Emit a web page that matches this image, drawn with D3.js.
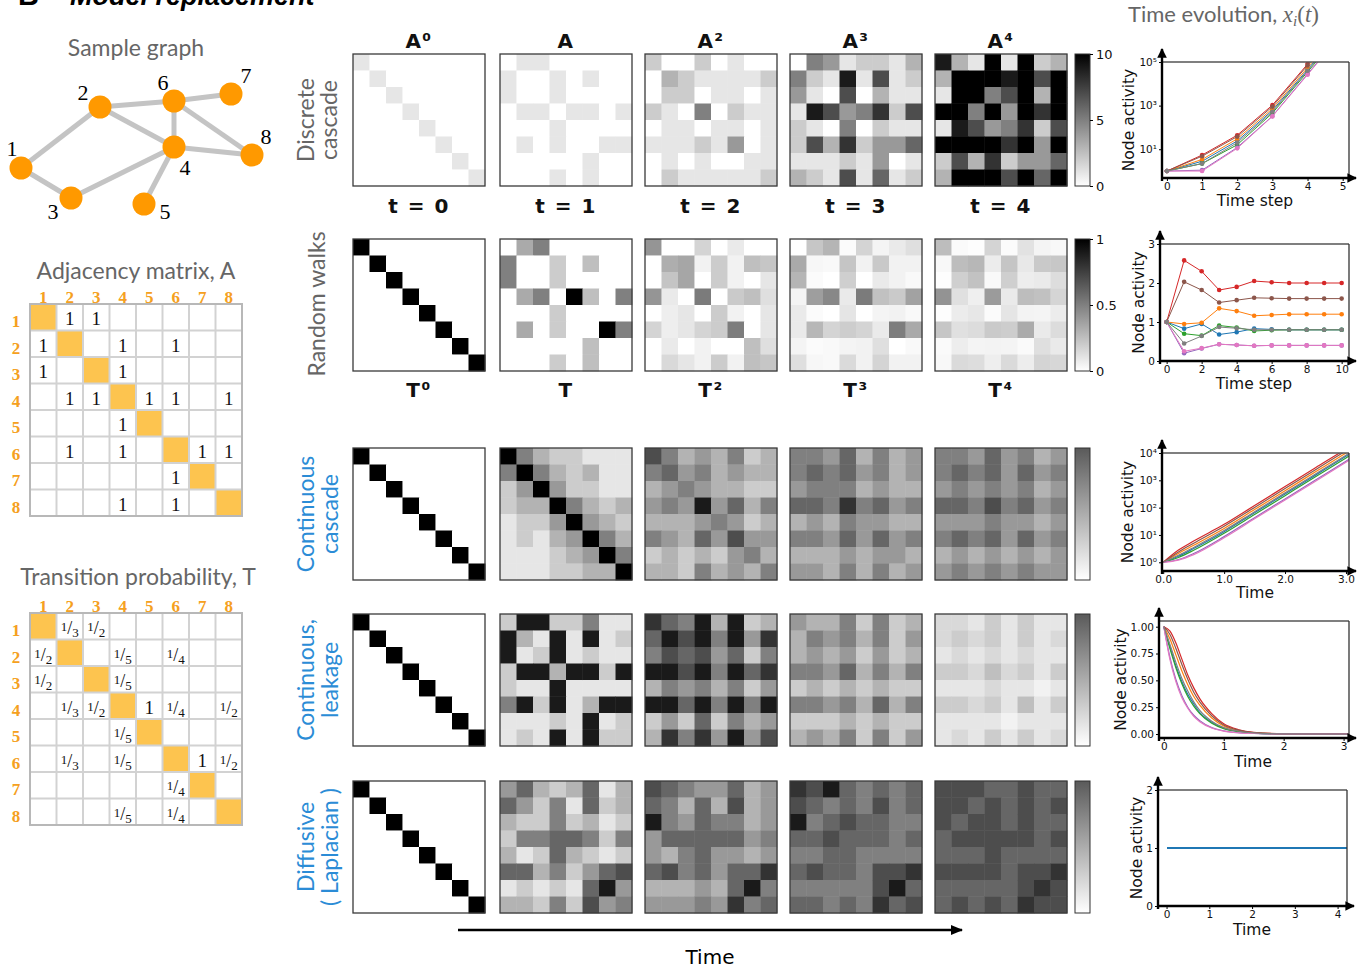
<!DOCTYPE html>
<html>
<head>
<meta charset="utf-8">
<title>Model replacement</title>
<script src="https://cdn.jsdelivr.net/npm/d3@7"></script>
<style>
  html, body { margin: 0; padding: 0; background: #ffffff; }
  svg { display: block; }
</style>
</head>
<body>
<svg id="figure" width="1372" height="971"></svg>
<script>
// ------------------------------------------------------------------
// Data
// ------------------------------------------------------------------
const nodeNames = ["1", "2", "3", "4", "5", "6", "7", "8"];
const nodeColors = ["#1f77b4", "#ff7f0e", "#2ca02c", "#d62728", "#9467bd", "#8c564b", "#e377c2", "#7f7f7f"];

const adjacency = [
  [0, 1, 1, 0, 0, 0, 0, 0],
  [1, 0, 0, 1, 0, 1, 0, 0],
  [1, 0, 0, 1, 0, 0, 0, 0],
  [0, 1, 1, 0, 1, 1, 0, 1],
  [0, 0, 0, 1, 0, 0, 0, 0],
  [0, 1, 0, 1, 0, 0, 1, 1],
  [0, 0, 0, 0, 0, 1, 0, 0],
  [0, 0, 0, 1, 0, 1, 0, 0]
];

const transitionText = [
  ["", "1/3", "1/2", "", "", "", "", ""],
  ["1/2", "", "", "1/5", "", "1/4", "", ""],
  ["1/2", "", "", "1/5", "", "", "", ""],
  ["", "1/3", "1/2", "", "1", "1/4", "", "1/2"],
  ["", "", "", "1/5", "", "", "", ""],
  ["", "1/3", "", "1/5", "", "", "1", "1/2"],
  ["", "", "", "", "", "1/4", "", ""],
  ["", "", "", "1/5", "", "1/4", "", ""]
];

// Discrete cascade: powers of A (node activity, colour range 0..10)
const identity = [
  [1, 0, 0, 0, 0, 0, 0, 0],
  [0, 1, 0, 0, 0, 0, 0, 0],
  [0, 0, 1, 0, 0, 0, 0, 0],
  [0, 0, 0, 1, 0, 0, 0, 0],
  [0, 0, 0, 0, 1, 0, 0, 0],
  [0, 0, 0, 0, 0, 1, 0, 0],
  [0, 0, 0, 0, 0, 0, 1, 0],
  [0, 0, 0, 0, 0, 0, 0, 1]
];
const powerA2 = [
  [2, 0, 0, 2, 0, 1, 0, 0],
  [0, 3, 2, 1, 1, 1, 1, 2],
  [0, 2, 2, 0, 1, 1, 0, 1],
  [2, 1, 0, 5, 0, 2, 1, 1],
  [0, 1, 1, 0, 1, 1, 0, 1],
  [1, 1, 1, 2, 1, 4, 0, 1],
  [0, 1, 0, 1, 0, 0, 1, 1],
  [0, 2, 1, 1, 1, 1, 1, 2]
];
const powerA3 = [
  [0, 5, 4, 1, 2, 2, 1, 3],
  [5, 2, 1, 9, 1, 7, 1, 2],
  [4, 1, 0, 7, 0, 3, 1, 1],
  [1, 9, 7, 4, 5, 8, 2, 7],
  [2, 1, 0, 5, 0, 2, 1, 1],
  [2, 7, 3, 8, 2, 4, 4, 6],
  [1, 1, 1, 2, 1, 4, 0, 1],
  [3, 2, 1, 7, 1, 6, 1, 2]
];
const powerA4 = [
  [9, 3, 1, 16, 1, 10, 2, 3],
  [3, 21, 14, 13, 9, 14, 7, 16],
  [1, 14, 11, 5, 7, 10, 3, 10],
  [16, 13, 5, 36, 4, 22, 8, 12],
  [1, 9, 7, 4, 5, 8, 2, 7],
  [10, 14, 10, 22, 8, 25, 4, 12],
  [2, 7, 3, 8, 2, 4, 4, 6],
  [3, 16, 10, 12, 7, 12, 6, 13]
];

// Random walks: powers of T (probability, colour range 0..1)
const powerT1 = [
  [0, 0.333, 0.5, 0, 0, 0, 0, 0],
  [0.5, 0, 0, 0.2, 0, 0.25, 0, 0],
  [0.5, 0, 0, 0.2, 0, 0, 0, 0],
  [0, 0.333, 0.5, 0, 1, 0.25, 0, 0.5],
  [0, 0, 0, 0.2, 0, 0, 0, 0],
  [0, 0.333, 0, 0.2, 0, 0, 1, 0.5],
  [0, 0, 0, 0, 0, 0.25, 0, 0],
  [0, 0, 0, 0.2, 0, 0.25, 0, 0]
];
const powerT2 = [
  [0.417, 0, 0, 0.167, 0, 0.083, 0, 0],
  [0, 0.317, 0.35, 0.05, 0.2, 0.05, 0.25, 0.225],
  [0, 0.233, 0.35, 0, 0.2, 0.05, 0, 0.1],
  [0.417, 0.083, 0, 0.517, 0, 0.208, 0.25, 0.125],
  [0, 0.067, 0.1, 0, 0.2, 0.05, 0, 0.1],
  [0.167, 0.067, 0.1, 0.167, 0.2, 0.508, 0, 0.1],
  [0, 0.083, 0, 0.05, 0, 0, 0.25, 0.125],
  [0, 0.15, 0.1, 0.05, 0.2, 0.05, 0.25, 0.225]
];
const powerT3 = [
  [0, 0.222, 0.292, 0.017, 0.167, 0.042, 0.083, 0.125],
  [0.333, 0.033, 0.025, 0.228, 0.05, 0.21, 0.05, 0.05],
  [0.292, 0.017, 0, 0.187, 0, 0.083, 0.05, 0.025],
  [0.042, 0.381, 0.467, 0.083, 0.517, 0.244, 0.208, 0.363],
  [0.083, 0.017, 0, 0.103, 0, 0.042, 0.05, 0.025],
  [0.083, 0.281, 0.167, 0.195, 0.167, 0.083, 0.508, 0.338],
  [0.042, 0.017, 0.025, 0.042, 0.05, 0.127, 0, 0.025],
  [0.125, 0.033, 0.025, 0.145, 0.05, 0.169, 0.05, 0.05]
];
const powerT4 = [
  [0.257, 0.019, 0.008, 0.169, 0.017, 0.112, 0.042, 0.029],
  [0.029, 0.257, 0.281, 0.074, 0.228, 0.09, 0.21, 0.219],
  [0.008, 0.187, 0.239, 0.025, 0.187, 0.07, 0.083, 0.135],
  [0.424, 0.123, 0.063, 0.394, 0.083, 0.259, 0.244, 0.164],
  [0.008, 0.076, 0.093, 0.017, 0.103, 0.049, 0.042, 0.073],
  [0.224, 0.121, 0.139, 0.207, 0.195, 0.33, 0.083, 0.139],
  [0.021, 0.07, 0.042, 0.049, 0.042, 0.021, 0.127, 0.084],
  [0.029, 0.146, 0.135, 0.066, 0.145, 0.07, 0.169, 0.157]
];

// Continuous cascade (grey level 0..1)
const cascadeC2 = [
  [1.0, 0.5, 0.3, 0.2, 0.2, 0.1, 0.1, 0.1],
  [0.5, 1.0, 0.5, 0.3, 0.2, 0.3, 0.1, 0.1],
  [0.2, 0.4, 1.0, 0.4, 0.2, 0.2, 0.1, 0.1],
  [0.2, 0.3, 0.3, 1.0, 0.5, 0.3, 0.2, 0.3],
  [0.1, 0.2, 0.2, 0.4, 1.0, 0.4, 0.3, 0.2],
  [0.1, 0.2, 0.1, 0.3, 0.4, 1.0, 0.5, 0.3],
  [0.1, 0.1, 0.1, 0.2, 0.3, 0.4, 1.0, 0.5],
  [0.1, 0.1, 0.1, 0.2, 0.2, 0.3, 0.3, 1.0]
];
const cascadeC3 = [
  [0.7, 0.5, 0.3, 0.4, 0.3, 0.5, 0.2, 0.3],
  [0.5, 0.6, 0.4, 0.5, 0.3, 0.4, 0.3, 0.3],
  [0.3, 0.4, 0.5, 0.4, 0.3, 0.3, 0.2, 0.2],
  [0.4, 0.5, 0.4, 0.9, 0.4, 0.6, 0.3, 0.5],
  [0.3, 0.3, 0.3, 0.4, 0.5, 0.4, 0.2, 0.3],
  [0.5, 0.4, 0.3, 0.6, 0.4, 0.7, 0.4, 0.4],
  [0.2, 0.3, 0.2, 0.3, 0.2, 0.4, 0.5, 0.3],
  [0.3, 0.3, 0.2, 0.5, 0.3, 0.4, 0.3, 0.5]
];
const cascadeC4 = [
  [0.5, 0.5, 0.4, 0.6, 0.3, 0.5, 0.3, 0.4],
  [0.5, 0.6, 0.5, 0.6, 0.4, 0.5, 0.3, 0.4],
  [0.4, 0.5, 0.5, 0.5, 0.3, 0.4, 0.3, 0.3],
  [0.6, 0.6, 0.5, 0.8, 0.5, 0.6, 0.4, 0.5],
  [0.3, 0.4, 0.3, 0.5, 0.4, 0.4, 0.3, 0.3],
  [0.5, 0.5, 0.4, 0.6, 0.4, 0.6, 0.4, 0.5],
  [0.3, 0.3, 0.3, 0.4, 0.3, 0.4, 0.4, 0.3],
  [0.4, 0.4, 0.3, 0.5, 0.3, 0.5, 0.3, 0.4]
];
const cascadeC5 = [
  [0.5, 0.5, 0.4, 0.6, 0.4, 0.5, 0.3, 0.4],
  [0.5, 0.6, 0.5, 0.6, 0.4, 0.6, 0.4, 0.5],
  [0.4, 0.5, 0.4, 0.5, 0.4, 0.5, 0.3, 0.4],
  [0.6, 0.6, 0.5, 0.7, 0.5, 0.6, 0.4, 0.5],
  [0.4, 0.4, 0.4, 0.5, 0.4, 0.4, 0.3, 0.4],
  [0.5, 0.6, 0.5, 0.6, 0.4, 0.6, 0.4, 0.5],
  [0.3, 0.4, 0.3, 0.4, 0.3, 0.4, 0.3, 0.4],
  [0.4, 0.5, 0.4, 0.5, 0.4, 0.5, 0.4, 0.4]
];

// Continuous leakage (grey level 0..1)
const leakL2 = [
  [0.2, 0.9, 0.9, 0.2, 0.2, 0.5, 0.1, 0.1],
  [0.9, 0.3, 0.1, 0.9, 0.1, 0.9, 0.1, 0.2],
  [0.9, 0.1, 0.2, 0.9, 0.1, 0.2, 0.1, 0.1],
  [0.2, 0.9, 0.9, 0.3, 0.9, 0.9, 0.2, 0.9],
  [0.2, 0.1, 0.1, 0.9, 0.1, 0.1, 0.1, 0.1],
  [0.5, 0.9, 0.2, 0.9, 0.1, 0.3, 0.9, 0.9],
  [0.1, 0.1, 0.1, 0.2, 0.1, 0.9, 0.1, 0.2],
  [0.1, 0.2, 0.1, 0.9, 0.1, 0.9, 0.2, 0.2]
];
const leakL3 = [
  [0.8, 0.6, 0.5, 0.9, 0.3, 0.9, 0.2, 0.3],
  [0.6, 0.9, 0.7, 0.9, 0.5, 0.9, 0.4, 0.8],
  [0.5, 0.7, 0.6, 0.7, 0.4, 0.6, 0.2, 0.5],
  [0.9, 0.9, 0.7, 0.9, 0.5, 0.9, 0.6, 0.8],
  [0.3, 0.5, 0.4, 0.5, 0.3, 0.5, 0.2, 0.4],
  [0.9, 0.9, 0.6, 0.9, 0.5, 0.9, 0.5, 0.9],
  [0.2, 0.4, 0.2, 0.6, 0.2, 0.5, 0.3, 0.4],
  [0.3, 0.8, 0.5, 0.8, 0.4, 0.9, 0.4, 0.7]
];
const leakL4 = [
  [0.4, 0.3, 0.3, 0.5, 0.2, 0.5, 0.2, 0.3],
  [0.3, 0.5, 0.4, 0.5, 0.3, 0.5, 0.2, 0.4],
  [0.3, 0.4, 0.3, 0.4, 0.2, 0.4, 0.2, 0.3],
  [0.5, 0.5, 0.4, 0.6, 0.3, 0.5, 0.3, 0.5],
  [0.2, 0.3, 0.2, 0.3, 0.2, 0.3, 0.2, 0.2],
  [0.5, 0.5, 0.4, 0.5, 0.3, 0.6, 0.3, 0.5],
  [0.2, 0.2, 0.2, 0.3, 0.2, 0.3, 0.2, 0.2],
  [0.3, 0.4, 0.3, 0.5, 0.2, 0.5, 0.2, 0.4]
];
const leakL5 = [
  [0.15, 0.15, 0.1, 0.2, 0.1, 0.2, 0.1, 0.1],
  [0.15, 0.2, 0.15, 0.2, 0.1, 0.2, 0.1, 0.15],
  [0.1, 0.15, 0.1, 0.15, 0.1, 0.15, 0.1, 0.1],
  [0.2, 0.2, 0.15, 0.25, 0.15, 0.2, 0.1, 0.2],
  [0.1, 0.1, 0.1, 0.15, 0.1, 0.1, 0.05, 0.1],
  [0.2, 0.2, 0.15, 0.2, 0.1, 0.25, 0.1, 0.2],
  [0.1, 0.1, 0.1, 0.1, 0.05, 0.1, 0.1, 0.1],
  [0.1, 0.15, 0.1, 0.2, 0.1, 0.2, 0.1, 0.15]
];

// Diffusive (Laplacian) (grey level 0..1)
const diffD2 = [
  [0.4, 0.6, 0.3, 0.2, 0.3, 0.6, 0.1, 0.3],
  [0.6, 0.4, 0.2, 0.5, 0.1, 0.6, 0.2, 0.3],
  [0.3, 0.2, 0.2, 0.5, 0.2, 0.3, 0.1, 0.2],
  [0.2, 0.5, 0.5, 0.6, 0.6, 0.5, 0.2, 0.5],
  [0.3, 0.1, 0.2, 0.6, 0.3, 0.2, 0.1, 0.2],
  [0.6, 0.6, 0.3, 0.5, 0.2, 0.4, 0.6, 0.7],
  [0.1, 0.2, 0.1, 0.2, 0.1, 0.6, 0.9, 0.4],
  [0.3, 0.3, 0.2, 0.5, 0.2, 0.7, 0.4, 0.5]
];
const diffD3 = [
  [0.7, 0.6, 0.5, 0.4, 0.4, 0.6, 0.3, 0.4],
  [0.6, 0.5, 0.3, 0.6, 0.3, 0.7, 0.3, 0.4],
  [0.9, 0.5, 0.4, 0.6, 0.5, 0.5, 0.3, 0.4],
  [0.4, 0.6, 0.6, 0.6, 0.6, 0.6, 0.4, 0.5],
  [0.4, 0.3, 0.5, 0.6, 0.4, 0.4, 0.3, 0.4],
  [0.6, 0.7, 0.5, 0.6, 0.4, 0.6, 0.6, 0.8],
  [0.3, 0.3, 0.3, 0.4, 0.3, 0.6, 0.9, 0.5],
  [0.4, 0.4, 0.4, 0.5, 0.4, 0.8, 0.5, 0.6]
];
const diffD4 = [
  [0.8, 0.7, 0.9, 0.6, 0.5, 0.6, 0.5, 0.6],
  [0.7, 0.6, 0.5, 0.6, 0.5, 0.7, 0.5, 0.6],
  [0.9, 0.5, 0.6, 0.7, 0.6, 0.6, 0.5, 0.5],
  [0.6, 0.6, 0.7, 0.6, 0.6, 0.6, 0.5, 0.6],
  [0.5, 0.5, 0.6, 0.6, 0.5, 0.5, 0.5, 0.5],
  [0.6, 0.7, 0.6, 0.6, 0.5, 0.7, 0.7, 0.8],
  [0.5, 0.5, 0.5, 0.5, 0.5, 0.7, 0.9, 0.6],
  [0.6, 0.6, 0.5, 0.6, 0.5, 0.8, 0.6, 0.7]
];
const diffD5 = [
  [0.7, 0.7, 0.7, 0.6, 0.6, 0.7, 0.6, 0.6],
  [0.7, 0.7, 0.6, 0.7, 0.6, 0.7, 0.6, 0.7],
  [0.7, 0.6, 0.7, 0.7, 0.6, 0.7, 0.6, 0.6],
  [0.6, 0.7, 0.7, 0.7, 0.7, 0.7, 0.6, 0.7],
  [0.6, 0.6, 0.6, 0.7, 0.6, 0.6, 0.6, 0.6],
  [0.7, 0.7, 0.7, 0.7, 0.6, 0.7, 0.7, 0.8],
  [0.6, 0.6, 0.6, 0.6, 0.6, 0.7, 0.8, 0.7],
  [0.6, 0.7, 0.6, 0.7, 0.6, 0.8, 0.7, 0.7]
];

const titlesA = ["A⁰", "A", "A²", "A³", "A⁴"];
const stepLabels = ["t = 0", "t = 1", "t = 2", "t = 3", "t = 4"];
const titlesT = ["T⁰", "T", "T²", "T³", "T⁴"];
const cascadeTicks = [0, 5, 10];
const walkTicks = [0, 0.5, 1];

// Time evolution of node activity (one row per node 1..8)
const discreteSteps = [0, 1, 2, 3, 4, 5];
const discreteActivity = [
  [1, 2.8, 24, 600, 45000, 3.5e6],
  [1, 3.4, 30, 720, 55000, 4.0e6],
  [1, 2.2, 16, 450, 35000, 2.8e6],
  [1, 5.4, 44, 1050, 80000, 6.0e6],
  [1, 1.1, 12, 330, 28000, 2.3e6],
  [1, 4.8, 38, 900, 70000, 5.0e6],
  [1, 1.0, 11, 320, 26000, 2.2e6],
  [1, 2.2, 20, 520, 40000, 3.0e6]
];
const walkSteps = [0, 1, 2, 3, 4, 5, 6, 7, 8, 9, 10];
const walkActivity = [
  [1, 0.83, 0.95, 0.68, 0.74, 0.83, 0.81, 0.8, 0.8, 0.8, 0.8],
  [1, 0.95, 0.98, 1.35, 1.28, 1.16, 1.18, 1.2, 1.2, 1.2, 1.2],
  [1, 0.70, 0.65, 0.91, 0.86, 0.77, 0.79, 0.8, 0.8, 0.8, 0.8],
  [1, 2.58, 2.30, 1.82, 1.90, 2.05, 2.02, 2.0, 2.0, 2.0, 2.0],
  [1, 0.20, 0.32, 0.43, 0.41, 0.39, 0.40, 0.4, 0.4, 0.4, 0.4],
  [1, 2.03, 1.82, 1.50, 1.56, 1.62, 1.61, 1.6, 1.6, 1.6, 1.6],
  [1, 0.25, 0.33, 0.43, 0.41, 0.39, 0.40, 0.4, 0.4, 0.4, 0.4],
  [1, 0.45, 0.64, 0.87, 0.84, 0.80, 0.80, 0.8, 0.8, 0.8, 0.8]
];
const cascadeTimes = [0, 0.25, 0.5, 1, 1.5, 2, 2.5, 3, 3.1];
const cascadeActivity = [
  [1, 1.66, 3.2, 13.2, 65, 316, 1550, 7600, 10500],
  [1, 2.1, 4.2, 17.4, 85, 417, 2040, 10000, 13800],
  [1, 1.5, 2.75, 11.5, 56, 275, 1350, 6600, 9100],
  [1, 2.8, 6.0, 24.5, 120, 590, 2900, 14100, 19500],
  [1, 1.26, 2.1, 8.7, 43, 209, 1020, 5000, 6900],
  [1, 2.4, 5.0, 20.9, 102, 500, 2450, 12000, 16600],
  [1, 1.2, 1.9, 7.9, 39, 190, 930, 4570, 6300],
  [1, 1.8, 3.5, 14.5, 71, 347, 1700, 8300, 11500]
];
const leakTimes = [0, 0.1, 0.2, 0.3, 0.4, 0.5, 0.6, 0.8, 1.0, 1.25, 1.5, 2, 3.1];
const leakActivity = [
  [1, 0.82, 0.64, 0.49, 0.37, 0.28, 0.20, 0.11, 0.055, 0.024, 0.009, 0.001, 0],
  [1, 0.89, 0.74, 0.59, 0.46, 0.35, 0.27, 0.15, 0.075, 0.032, 0.012, 0.002, 0],
  [1, 0.80, 0.62, 0.47, 0.35, 0.26, 0.19, 0.10, 0.05, 0.022, 0.008, 0.001, 0],
  [1, 0.96, 0.85, 0.70, 0.55, 0.43, 0.33, 0.19, 0.095, 0.04, 0.016, 0.003, 0],
  [1, 0.72, 0.51, 0.36, 0.25, 0.175, 0.125, 0.06, 0.03, 0.012, 0.005, 0.001, 0],
  [1, 0.93, 0.80, 0.65, 0.51, 0.39, 0.30, 0.17, 0.085, 0.036, 0.014, 0.002, 0],
  [1, 0.70, 0.49, 0.34, 0.24, 0.165, 0.115, 0.056, 0.027, 0.011, 0.005, 0.001, 0],
  [1, 0.84, 0.67, 0.52, 0.40, 0.30, 0.22, 0.12, 0.06, 0.026, 0.01, 0.002, 0]
];
const diffusionTimes = [0, 4.22];
const diffusionActivity = [
  [1, 1], [1, 1], [1, 1], [1, 1], [1, 1], [1, 1], [1, 1], [1, 1]
];

// ------------------------------------------------------------------
// Drawing
// ------------------------------------------------------------------
const svg = d3.select("#figure");
const SANS = "'DejaVu Sans', Verdana, sans-serif";
const SERIF = "'Liberation Serif', 'Times New Roman', serif";
const SOFT = "'Lato', 'Open Sans', sans-serif";
const ORANGE_TXT = "#f5a020";
const HEAD_GREY = "#666666";
const BLUE_TXT = "#2b8cd6";

// Figure header (runs off the top edge)
svg.append("text").attr("x", 18).attr("y", 5)
  .attr("font-family", "'Liberation Sans', Arial, sans-serif")
  .attr("font-weight", "bold").attr("font-size", 29).text("B");
svg.append("text").attr("x", 70).attr("y", 5)
  .attr("font-family", "'Liberation Sans', Arial, sans-serif")
  .attr("font-weight", "bold").attr("font-style", "italic").attr("font-size", 27)
  .text("Model replacement");

// ---------------- Sample graph ----------------
svg.append("text").attr("x", 136).attr("y", 56).attr("text-anchor", "middle")
  .attr("font-family", SOFT).attr("font-size", 23).attr("fill", HEAD_GREY)
  .text("Sample graph");

const graphLayout = [[21, 168], [100, 107], [71, 198], [174, 147], [144, 204], [174, 101], [231, 94], [252, 155]];
const labelLayout = [[12, 156], [83, 100], [53, 219], [185, 175], [165, 219], [163, 90], [246, 83], [266, 144]];

const edges = [];
adjacency.forEach((row, i) => row.forEach((v, j) => { if (v && j > i) edges.push([i, j]); }));

const gGraph = svg.append("g");
gGraph.selectAll("line").data(edges).join("line")
  .attr("x1", d => graphLayout[d[0]][0]).attr("y1", d => graphLayout[d[0]][1])
  .attr("x2", d => graphLayout[d[1]][0]).attr("y2", d => graphLayout[d[1]][1])
  .attr("stroke", "#c4c4c4").attr("stroke-width", 5);
gGraph.selectAll("circle").data(nodeNames).join("circle")
  .attr("cx", (d, i) => graphLayout[i][0]).attr("cy", (d, i) => graphLayout[i][1])
  .attr("r", 11.5).attr("fill", "#ff9900");
gGraph.selectAll("text").data(nodeNames).join("text")
  .attr("x", (d, i) => labelLayout[i][0]).attr("y", (d, i) => labelLayout[i][1])
  .attr("text-anchor", "middle").attr("font-family", SERIF).attr("font-size", 22)
  .text(d => d);

// ---------------- Tables ----------------
function drawTable(x0, y0, title, titleY, titleX, cellText) {
  const g = svg.append("g");
  const size = 212;
  const band = d3.scaleBand().domain(d3.range(8)).range([0, size]);
  const cw = band.bandwidth();
  g.append("text").attr("x", titleX).attr("y", titleY).attr("text-anchor", "middle")
    .attr("font-family", SOFT).attr("font-size", 23).attr("fill", HEAD_GREY).text(title);
  const t = g.append("g").attr("transform", `translate(${x0},${y0})`);
  // diagonal self-cells
  t.selectAll("rect.diag").data(d3.range(8)).join("rect").attr("class", "diag")
    .attr("x", d => band(d)).attr("y", d => band(d)).attr("width", cw).attr("height", cw)
    .attr("fill", "#fdc44f");
  // grid
  t.selectAll("line.v").data(d3.range(1, 8)).join("line").attr("class", "v")
    .attr("x1", d => band(d)).attr("x2", d => band(d)).attr("y1", 0).attr("y2", size)
    .attr("stroke", "#d2d2d2").attr("stroke-width", 2);
  t.selectAll("line.h").data(d3.range(1, 8)).join("line").attr("class", "h")
    .attr("y1", d => band(d)).attr("y2", d => band(d)).attr("x1", 0).attr("x2", size)
    .attr("stroke", "#d2d2d2").attr("stroke-width", 2);
  t.append("rect").attr("width", size).attr("height", size).attr("fill", "none")
    .attr("stroke", "#b8b8b8").attr("stroke-width", 2);
  // headers
  t.selectAll("text.col").data(nodeNames).join("text").attr("class", "col")
    .attr("x", (d, i) => band(i) + cw / 2).attr("y", -1).attr("text-anchor", "middle")
    .attr("font-family", SERIF).attr("font-weight", "bold").attr("font-size", 17)
    .attr("fill", ORANGE_TXT).text(d => d);
  t.selectAll("text.row").data(nodeNames).join("text").attr("class", "row")
    .attr("x", -14).attr("y", (d, i) => band(i) + cw / 2 + 10).attr("text-anchor", "middle")
    .attr("font-family", SERIF).attr("font-weight", "bold").attr("font-size", 17)
    .attr("fill", ORANGE_TXT).text(d => d);
  // entries
  cellText.forEach((row, i) => row.forEach((s, j) => {
    if (!s) return;
    const cx = band(j) + cw / 2, cy = band(i) + cw / 2;
    const txt = t.append("text").attr("x", cx).attr("y", cy + 8).attr("text-anchor", "middle")
      .attr("font-family", SERIF).attr("fill", "#111");
    if (s.includes("/")) {
      const [num, den] = s.split("/");
      txt.append("tspan").attr("font-size", 13).attr("dy", -3).text(num);
      txt.append("tspan").attr("font-size", 18).attr("dy", 3).text("/");
      txt.append("tspan").attr("font-size", 13).attr("dy", 3).text(den);
    } else {
      txt.attr("font-size", 19).text(s);
    }
  }));
}

const adjacencyText = adjacency.map(row => row.map(v => (v ? "1" : "")));
drawTable(30, 304, "Adjacency matrix, A", 279, 136, adjacencyText);
drawTable(30, 613, "Transition probability, T", 585, 138, transitionText);

// ---------------- Matrix panels ----------------
const PANEL = 132;
const panelX = [353, 500, 645, 790, 935];
const rowY = [54, 239, 448, 614, 781];
const cbX = 1075, cbW = 15;

const defs = svg.append("defs");
function gradient(id, topColor) {
  const lg = defs.append("linearGradient").attr("id", id)
    .attr("x1", 0).attr("y1", 1).attr("x2", 0).attr("y2", 0);
  lg.append("stop").attr("offset", "0%").attr("stop-color", "#ffffff");
  lg.append("stop").attr("offset", "100%").attr("stop-color", topColor);
}
gradient("cbBlack", "#000000");
gradient("cbGrey", "#5a5a5a");

function drawPanel(matrix, x0, y0, color) {
  const band = d3.scaleBand().domain(d3.range(8)).range([0, PANEL]);
  const g = svg.append("g").attr("transform", `translate(${x0},${y0})`);
  const cells = [];
  matrix.forEach((row, i) => row.forEach((v, j) => cells.push({ i, j, v })));
  g.selectAll("rect.cell").data(cells).join("rect").attr("class", "cell")
    .attr("x", d => band(d.j)).attr("y", d => band(d.i))
    .attr("width", band.bandwidth() + 0.4).attr("height", band.bandwidth() + 0.4)
    .attr("fill", d => color(d.v));
  g.append("rect").attr("width", PANEL).attr("height", PANEL).attr("fill", "none")
    .attr("stroke", "#3a3a3a").attr("stroke-width", 1.3);
}

function drawColorbar(y0, gradId, ticks) {
  const g = svg.append("g").attr("transform", `translate(${cbX},${y0})`);
  g.append("rect").attr("width", cbW).attr("height", PANEL).attr("fill", `url(#${gradId})`)
    .attr("stroke", "#333").attr("stroke-width", 1);
  if (ticks) {
    const s = d3.scaleLinear().domain([ticks[0], ticks[ticks.length - 1]]).range([PANEL, 0]);
    const ax = d3.axisRight(s).tickValues(ticks).tickSize(3).tickFormat(d3.format("~g"));
    const a = g.append("g").attr("transform", `translate(${cbW},0)`).call(ax);
    a.select(".domain").remove();
    a.selectAll("text").attr("font-family", SANS).attr("font-size", 13).attr("fill", "#111");
  }
}

const greyScale = vmax => d3.scaleLinear().domain([0, vmax]).range(["#ffffff", "#000000"]).clamp(true);

const rows = [
  { mats: [identity, adjacency, powerA2, powerA3, powerA4], color: greyScale(10), grad: "cbBlack", ticks: cascadeTicks },
  { mats: [identity, powerT1, powerT2, powerT3, powerT4], color: greyScale(1), grad: "cbBlack", ticks: walkTicks },
  { mats: [identity, cascadeC2, cascadeC3, cascadeC4, cascadeC5], color: greyScale(1), grad: "cbGrey", ticks: null },
  { mats: [identity, leakL2, leakL3, leakL4, leakL5], color: greyScale(1), grad: "cbGrey", ticks: null },
  { mats: [identity, diffD2, diffD3, diffD4, diffD5], color: greyScale(1), grad: "cbGrey", ticks: null }
];
rows.forEach((r, ri) => {
  r.mats.forEach((m, k) => drawPanel(m, panelX[k], rowY[ri], r.color));
  drawColorbar(rowY[ri], r.grad, r.ticks);
});

// captions
const MARK = "'DejaVu Sans', sans-serif";
function caption(texts, y, size) {
  svg.selectAll(null).data(texts).join("text")
    .attr("x", (d, k) => panelX[k] + PANEL / 2).attr("y", y).attr("text-anchor", "middle")
    .attr("font-family", MARK).attr("font-weight", "bold").attr("font-size", size)
    .attr("letter-spacing", 1.5).attr("fill", "#111").text(d => d);
}
caption(titlesA, 48, 20);
caption(stepLabels, 213, 20);
caption(titlesT, 397, 20);

// row labels
function rowLabel(lines, xs, cy, color) {
  lines.forEach((s, k) => {
    svg.append("text").attr("transform", `translate(${xs[k]},${cy}) rotate(-90)`)
      .attr("text-anchor", "middle").attr("dominant-baseline", "central")
      .attr("font-family", SOFT).attr("font-size", 23).attr("fill", color).text(s);
  });
}
rowLabel(["Discrete", "cascade"], [305, 328], 120, HEAD_GREY);
rowLabel(["Random walks"], [316], 304, HEAD_GREY);
rowLabel(["Continuous", "cascade"], [305, 329], 514, BLUE_TXT);
rowLabel(["Continuous,", "leakage"], [305, 329], 680, BLUE_TXT);
rowLabel(["Diffusive", "( Laplacian )"], [305, 329], 847, BLUE_TXT);

// time arrow
defs.append("marker").attr("id", "arrowBig").attr("viewBox", "0 0 10 10").attr("refX", 9).attr("refY", 5)
  .attr("markerWidth", 5).attr("markerHeight", 5).attr("orient", "auto")
  .append("path").attr("d", "M0,1 L10,5 L0,9 Z").attr("fill", "#000");
svg.append("line").attr("x1", 458).attr("x2", 962).attr("y1", 930).attr("y2", 930)
  .attr("stroke", "#000").attr("stroke-width", 2.5).attr("marker-end", "url(#arrowBig)");
svg.append("text").attr("x", 710).attr("y", 964).attr("text-anchor", "middle")
  .attr("font-family", SANS).attr("font-size", 20).text("Time");

// ---------------- Time evolution plots ----------------
const title = svg.append("text").attr("x", 1128).attr("y", 22).attr("font-family", SOFT)
  .attr("font-size", 22).attr("fill", HEAD_GREY);
title.append("tspan").text("Time evolution, ");
title.append("tspan").attr("font-family", SERIF).attr("font-style", "italic").attr("font-size", 23).text("x");
title.append("tspan").attr("font-family", SERIF).attr("font-style", "italic").attr("font-size", 15).attr("dy", 4).text("i");
title.append("tspan").attr("font-family", SERIF).attr("font-size", 23).attr("dy", -4).text("(");
title.append("tspan").attr("font-family", SERIF).attr("font-style", "italic").attr("font-size", 23).text("t");
title.append("tspan").attr("font-family", SERIF).attr("font-size", 23).text(")");

defs.append("marker").attr("id", "arrowSmall").attr("viewBox", "0 0 10 10").attr("refX", 9).attr("refY", 5)
  .attr("markerWidth", 4).attr("markerHeight", 4).attr("orient", "auto")
  .append("path").attr("d", "M0,0 L10,5 L0,10 Z").attr("fill", "#000");

const superDigits = { "0": "⁰", "1": "¹", "2": "²", "3": "³", "4": "⁴", "5": "⁵" };

let clipCount = 0;
function drawPlot(cfg) {
  const { left, right, top, bottom } = cfg.box;
  const x = d3.scaleLinear().domain(cfg.xDomain).range([left, right]);
  const y = (cfg.log ? d3.scaleLog() : d3.scaleLinear()).domain(cfg.yDomain).range([bottom, top]);
  const g = svg.append("g");
  const clipId = "clip" + (clipCount++);
  defs.append("clipPath").attr("id", clipId).append("rect")
    .attr("x", left).attr("y", top).attr("width", right - left).attr("height", bottom - top);

  const line = d3.line().x((d, i) => x(cfg.times[i])).y(d => y(d))
    .curve(cfg.curve || d3.curveLinear);
  const lines = g.append("g").attr("clip-path", `url(#${clipId})`);
  if (cfg.crisp) lines.attr("shape-rendering", "crispEdges");
  const order = cfg.reverse ? d3.range(cfg.series.length).reverse() : d3.range(cfg.series.length);
  order.forEach(i => {
    const s = cfg.series[i];
    lines.append("path").attr("d", line(s)).attr("fill", "none")
      .attr("stroke", nodeColors[i]).attr("stroke-width", cfg.lineWidth || 1.2);
    if (cfg.markers) {
      lines.selectAll(null).data(s).join("circle")
        .attr("cx", (d, k) => x(cfg.times[k])).attr("cy", d => y(d)).attr("r", 2.3)
        .attr("fill", nodeColors[i]);
    }
  });

  // frame
  g.append("line").attr("x1", left).attr("x2", right).attr("y1", top).attr("y2", top)
    .attr("stroke", "#555").attr("stroke-width", 1.3);
  g.append("line").attr("x1", right).attr("x2", right).attr("y1", top).attr("y2", bottom)
    .attr("stroke", "#333").attr("stroke-width", 1.3);

  // axes
  const yAxis = d3.axisLeft(y).tickValues(cfg.yTicks).tickSize(3).tickPadding(2)
    .tickFormat(cfg.yFormat || d3.format("~g"));
  const ya = g.append("g").attr("transform", `translate(${left},0)`).call(yAxis);
  ya.select(".domain").remove();
  ya.selectAll("text").attr("font-family", SANS).attr("font-size", 10.5).attr("fill", "#111");
  if (cfg.log) {
    ya.selectAll("text").text(d => "10" + String(Math.round(Math.log10(d))).split("").map(c => superDigits[c]).join(""));
  }
  const xAxis = d3.axisBottom(x).tickValues(cfg.xTicks).tickSize(3).tickPadding(2)
    .tickFormat(cfg.xFormat || d3.format("~g"));
  const xa = g.append("g").attr("transform", `translate(0,${bottom})`).call(xAxis);
  xa.select(".domain").remove();
  xa.selectAll("text").attr("font-family", SANS).attr("font-size", 10.5).attr("fill", "#111");

  g.append("line").attr("x1", left).attr("x2", left).attr("y1", bottom + 3).attr("y2", top - 13)
    .attr("stroke", "#000").attr("stroke-width", 2.4).attr("marker-end", "url(#arrowSmall)");
  g.append("line").attr("x1", left - 1).attr("x2", right + 7).attr("y1", bottom).attr("y2", bottom)
    .attr("stroke", "#000").attr("stroke-width", 2.4).attr("marker-end", "url(#arrowSmall)");

  g.append("text").attr("transform", `translate(${cfg.yLabelX},${(top + bottom) / 2}) rotate(-90)`)
    .attr("text-anchor", "middle").attr("dominant-baseline", "central")
    .attr("font-family", SANS).attr("font-size", 15.5).attr("fill", "#111").text("Node activity");
  g.append("text").attr("x", cfg.xLabelX).attr("y", cfg.xLabelY).attr("text-anchor", "middle")
    .attr("font-family", SANS).attr("font-size", 15.5).attr("fill", "#111").text(cfg.xLabel);
}

drawPlot({
  box: { left: 1162, right: 1349, top: 62, bottom: 178 },
  xDomain: [-0.14, 5.18], yDomain: [0.48, 1e5], log: true,
  times: discreteSteps, series: discreteActivity, markers: true, lineWidth: 1,
  yTicks: [10, 1000, 100000], xTicks: [0, 1, 2, 3, 4, 5],
  yLabelX: 1129, xLabel: "Time step", xLabelX: 1255, xLabelY: 206
});
drawPlot({
  box: { left: 1160, right: 1349, top: 244, bottom: 361 },
  xDomain: [-0.38, 10.42], yDomain: [0, 3],
  times: walkSteps, series: walkActivity, markers: true, lineWidth: 1,
  yTicks: [0, 1, 2, 3], xTicks: [0, 2, 4, 6, 8, 10],
  yLabelX: 1139, xLabel: "Time step", xLabelX: 1254, xLabelY: 389
});
drawPlot({
  box: { left: 1162, right: 1349, top: 453, bottom: 571 },
  xDomain: [-0.02, 3.05], yDomain: [0.48, 1e4], log: true,
  times: cascadeTimes, series: cascadeActivity, curve: d3.curveMonotoneX,
  yTicks: [1, 10, 100, 1000, 10000], xTicks: [0, 1, 2, 3], xFormat: d3.format(".1f"),
  yLabelX: 1128, xLabel: "Time", xLabelX: 1255, xLabelY: 598
});
drawPlot({
  box: { left: 1159, right: 1349, top: 621, bottom: 738 },
  xDomain: [-0.08, 3.09], yDomain: [-0.037, 1.053],
  times: leakTimes, series: leakActivity, curve: d3.curveMonotoneX,
  yTicks: [0, 0.25, 0.5, 0.75, 1], yFormat: d3.format(".2f"), xTicks: [0, 1, 2, 3],
  yLabelX: 1121, xLabel: "Time", xLabelX: 1253, xLabelY: 767
});
drawPlot({
  box: { left: 1158, right: 1347, top: 790, bottom: 906 },
  xDomain: [-0.2, 4.22], yDomain: [0, 2], reverse: true, lineWidth: 2, crisp: true,
  times: diffusionTimes, series: diffusionActivity,
  yTicks: [0, 1, 2], xTicks: [0, 1, 2, 3, 4],
  yLabelX: 1137, xLabel: "Time", xLabelX: 1252, xLabelY: 935
});
</script>
</body>
</html>
